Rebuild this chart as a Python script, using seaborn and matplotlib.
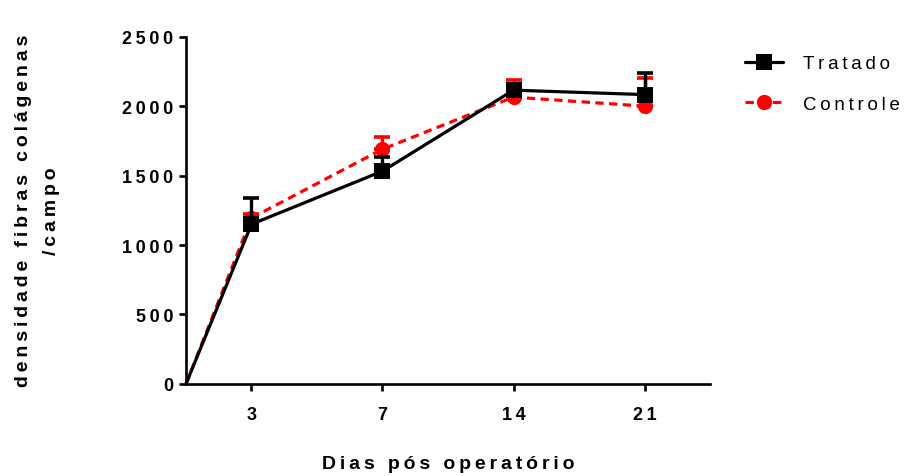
import numpy as np
import pandas as pd
import matplotlib
matplotlib.use("Agg")
import matplotlib.pyplot as plt
import seaborn as sns

sns.set_theme(style="white")
plt.rcParams['font.family'] = ['Liberation Sans', 'DejaVu Sans']

# data
dias = ["0", "3", "7", "14", "21"]
tratado = [0, 1150, 1532, 2115, 2083]
tratado_err = [0, 188, 100, 40, 155]
controle = [0, 1195, 1690, 2065, 2000]
controle_err = [0, 30, 88, 125, 200]
yticks = [0, 500, 1000, 1500, 2000, 2500]


def sp(s):
    # fake letter spacing like the Prism export
    return "\u2009".join(s)


# origin sits half a step left of the first day
xpos = [0] + [2 * i + 1 for i in range(len(dias) - 1)]
df = pd.DataFrame({"x": xpos, "Tratado": tratado, "Controle": controle})
marks = list(range(1, len(dias)))  # no marker on the origin

fig = plt.figure(figsize=(9.09, 4.77), dpi=100)
ax = fig.add_axes([0.2046, 0.193, 0.5765, 0.728])

# error bars (upper only)
ax.errorbar(df["x"][1:], df["Controle"][1:],
            yerr=[np.zeros(len(controle) - 1), controle_err[1:]],
            fmt="none", ecolor="#ff0000", elinewidth=2.4, capsize=5.5, capthick=2.6,
            zorder=2, clip_on=False)
ax.errorbar(df["x"][1:], df["Tratado"][1:],
            yerr=[np.zeros(len(tratado) - 1), tratado_err[1:]],
            fmt="none", ecolor="black", elinewidth=2.4, capsize=5.5, capthick=2.6,
            zorder=4, clip_on=False)

sns.lineplot(data=df, x="x", y="Controle", ax=ax, color="#ff0000",
             linestyle=(0, (2.6, 1.7)), linewidth=2.3, marker="o", markersize=11,
             markeredgewidth=0, markevery=marks, label=sp("Controle"), zorder=3,
             clip_on=False)
sns.lineplot(data=df, x="x", y="Tratado", ax=ax, color="black",
             linewidth=2.3, marker="s", markersize=11, markeredgewidth=0,
             markevery=marks, label=sp("Tratado"), zorder=5, clip_on=False)

ax.set_xlim(0, 8)
ax.set_ylim(0, 2500)
ax.set_xticks(xpos[1:])
ax.set_xticklabels([sp(d) for d in dias[1:]], fontweight="bold", fontsize=13)
ax.set_yticks(yticks)
ax.set_yticklabels([sp(str(v)) for v in yticks], fontweight="bold", fontsize=13)

for side in ["top", "right"]:
    ax.spines[side].set_visible(False)
for side in ["left", "bottom"]:
    ax.spines[side].set_color("black")
    ax.spines[side].set_linewidth(1.9)
ax.tick_params(axis="both", direction="out", length=5, width=1.9, color="black",
               labelcolor="black", left=True, bottom=True)
ax.tick_params(axis="x", pad=11)
ax.tick_params(axis="y", pad=4)

ax.set_xlabel(sp("Dias pós operatório"), fontsize=14, fontweight="bold",
              color="black", labelpad=23)
ax.set_ylabel(sp("densidade fibras colágenas") + "\n" + sp("/campo"),
              fontsize=14, fontweight="bold", color="black", labelpad=45,
              linespacing=1.8)

handles, labels = ax.get_legend_handles_labels()
leg = ax.legend(handles[::-1], labels[::-1], loc="upper left",
                bbox_to_anchor=(1.035, 0.995), frameon=False, fontsize=13.5,
                handlelength=2.0, labelspacing=1.25, handletextpad=1.1)
for t in leg.get_texts():
    t.set_color("black")

fig.savefig("out.png", dpi=100)
